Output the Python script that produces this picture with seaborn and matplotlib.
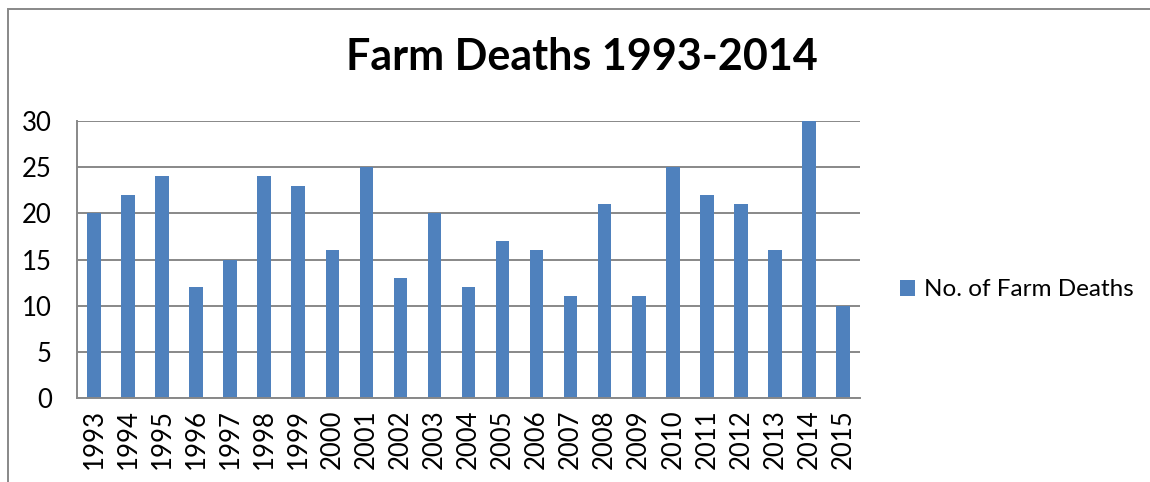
import matplotlib
matplotlib.use("Agg")
import matplotlib.pyplot as plt
import seaborn as sns
import pandas as pd
from matplotlib.patches import Rectangle, Patch

years = [str(y) for y in range(1993, 2016)]
deaths = [20, 22, 24, 12, 15, 24, 23, 16, 25, 13, 20, 12, 17, 16, 11, 21, 11, 25, 22, 21, 16, 30, 10]
series_name = "No. of Farm Deaths"
title = "Farm Deaths 1993-2014"

sns.set_style("white")
plt.rcParams['font.family'] = ['Lato', 'DejaVu Sans']
plt.rcParams['text.color'] = 'black'
plt.rcParams['xtick.color'] = 'black'
plt.rcParams['ytick.color'] = 'black'

df = pd.DataFrame({"year": years, "deaths": deaths})

W, H = 1150, 482
fig = plt.figure(figsize=(W / 100, H / 100), dpi=100)
ax = fig.add_axes([77 / W, 1 - 398 / H, (860 - 77) / W, (398 - 121) / H])

blue = "#4F81BD"
grey = "#888888"
sns.barplot(data=df, x="year", y="deaths", color=blue, width=0.4, ax=ax,
            saturation=1, edgecolor="none")

ax.set_ylim(0, 30)
ax.set_yticks(range(0, 31, 5))
ax.set_xlim(-0.5, len(years) - 0.5)
ax.yaxis.grid(True, color=grey, linewidth=1.4)
ax.set_axisbelow(True)
for s in ["top", "right"]:
    ax.spines[s].set_visible(False)
for s in ["left", "bottom"]:
    ax.spines[s].set_color(grey)
    ax.spines[s].set_linewidth(1.4)
ax.set_xlabel("")
ax.set_ylabel("")
ax.tick_params(axis="x", labelrotation=90, labelsize=18.5, length=0, pad=8)
ax.tick_params(axis="y", labelsize=18.5, length=0, pad=18)

fig.text(582 / W, 1 - 57 / H, title, ha="center", va="center",
         fontsize=31, fontweight="bold")

handle = Patch(facecolor=blue, edgecolor="none")
fig.legend([handle], [series_name], loc="center left",
           bbox_to_anchor=(900 / W, 1 - 290 / H), frameon=False,
           fontsize=17.5, handlelength=0.6, handleheight=0.6, handletextpad=0.4,
           borderpad=0, borderaxespad=0)

fig.patches.append(Rectangle((8 / W, -0.1), 1.2, 1 - 9 / H + 0.1,
                             transform=fig.transFigure, fill=False,
                             edgecolor=grey, linewidth=1.4))

fig.savefig("out.png", dpi=100)
